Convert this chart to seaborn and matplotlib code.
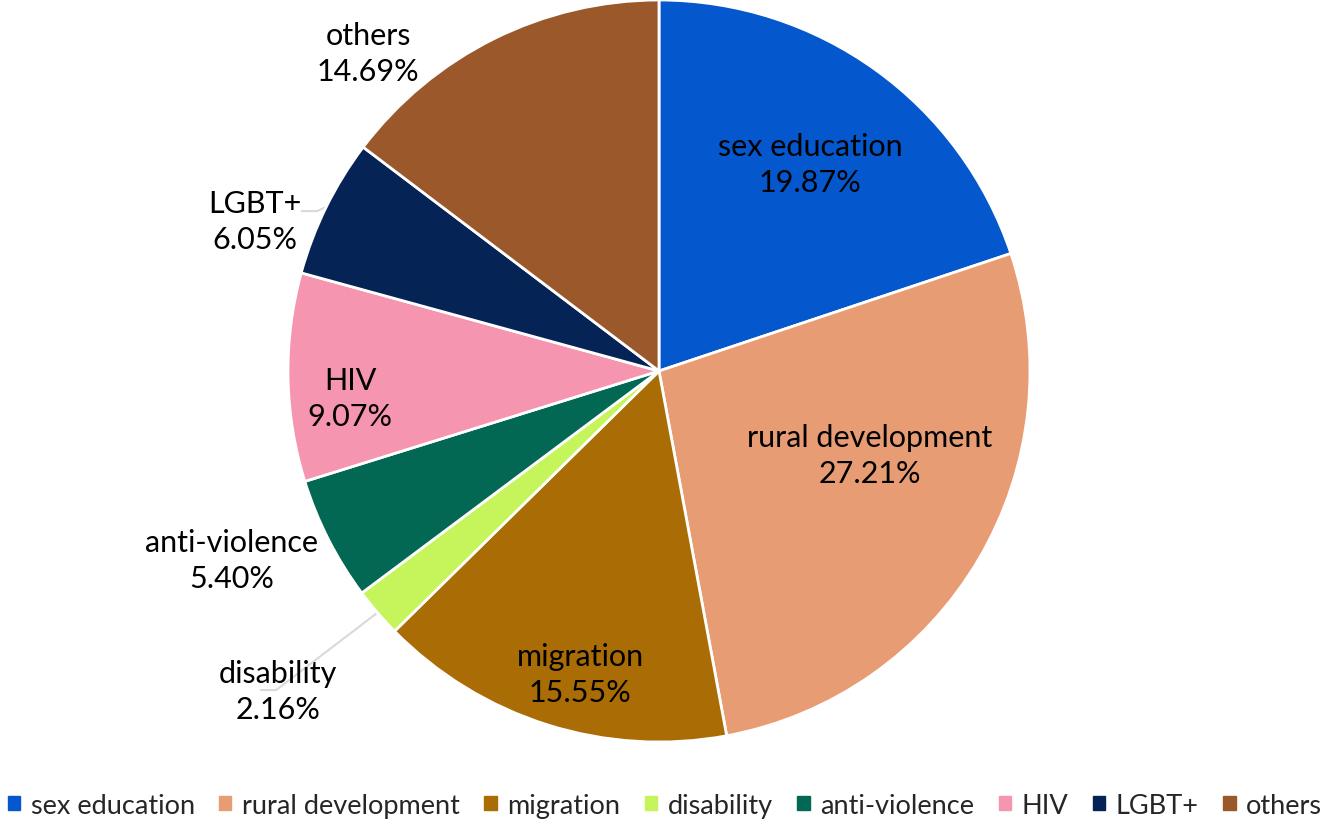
import matplotlib
matplotlib.use('Agg')
import matplotlib.pyplot as plt
import seaborn as sns
import numpy as np

categories = ['sex education', 'rural development', 'migration', 'disability',
              'anti-violence', 'HIV', 'LGBT+', 'others']
shares = [19.87, 27.21, 15.55, 2.16, 5.40, 9.07, 6.05, 14.69]
colors = ['#0457CC', '#E89C74', '#AA6C04', '#C5F55A',
          '#036853', '#F595B0', '#062355', '#9B582B']

# label centres in data units (pie radius = 1), placed like the original
label_pos = [(0.407, 0.558), (0.569, -0.226), (-0.213, -0.817), (-1.027, -0.863),
             (-1.151, -0.509), (-0.833, -0.073), (-1.089, 0.404), (-0.784, 0.857)]

sns.set_theme(style='white')
plt.rcParams['font.family'] = ['Lato', 'DejaVu Sans']

fig = plt.figure(figsize=(13.3, 8.28), dpi=100)
ax = fig.add_axes([288 / 1330, 85 / 828, 742 / 1330, 742 / 828])

wedges, _ = ax.pie(shares, colors=sns.color_palette(colors), startangle=90,
                   counterclock=False, radius=1,
                   wedgeprops=dict(edgecolor='white', linewidth=2))
ax.set_xlim(-1, 1)
ax.set_ylim(-1, 1)
ax.set_aspect('equal')

for name, val, (x, y) in zip(categories, shares, label_pos):
    ax.text(x, y, f'{name}\n{val:.2f}%', ha='center', va='center',
            fontsize=22, color='black', linespacing=1.35, clip_on=False)

# leader lines for the two small outside labels
def leader(idx, start, elbow):
    w = wedges[idx]
    mid = np.deg2rad((w.theta1 + w.theta2) / 2)
    end = (np.cos(mid), np.sin(mid))
    ax.plot([start[0], elbow[0], end[0]], [start[1], elbow[1], end[1]],
            color='#D9D9D9', lw=1.5, clip_on=False, zorder=0)

leader(6, (-0.963, 0.431), (-0.922, 0.431))
leader(3, (-1.073, -0.860), (-1.032, -0.860))

handles = [plt.Rectangle((0, 0), 1, 1, color=c) for c in colors]
fig.legend(handles, categories, loc='lower center', bbox_to_anchor=(0.5, 0.0),
           ncol=8, frameon=False, fontsize=19.5, handlelength=0.45, handleheight=0.45,
           handletextpad=0.4, columnspacing=0.9, borderaxespad=0.05, borderpad=0.3)

fig.savefig('out.png', dpi=100)
